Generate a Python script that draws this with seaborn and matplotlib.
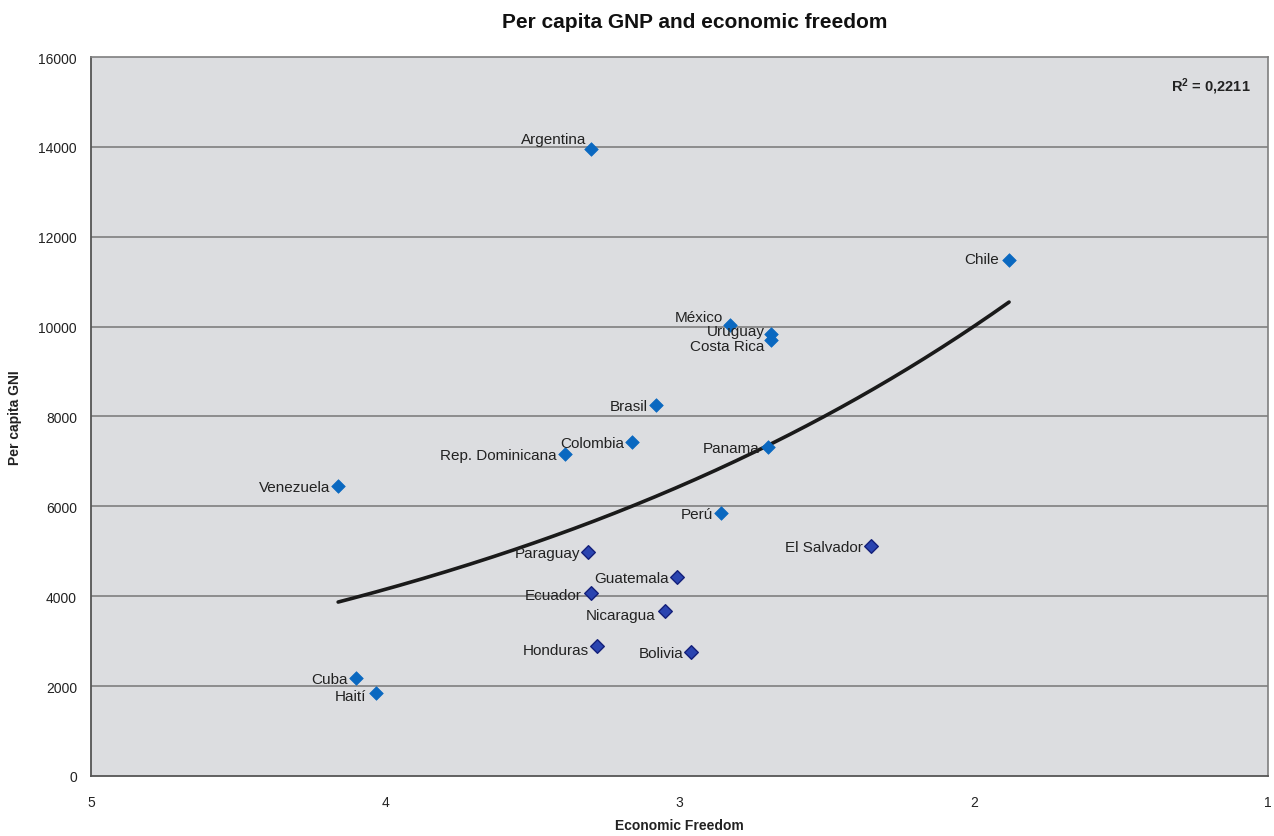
import numpy as np
import pandas as pd
import seaborn as sns
import matplotlib.pyplot as plt

# Values
countries = ['Argentina', 'Chile', 'México', 'Uruguay', 'Costa Rica', 'Brasil',
             'Colombia', 'Rep. Dominicana', 'Panama', 'Venezuela', 'Perú',
             'El Salvador', 'Paraguay', 'Guatemala', 'Ecuador', 'Nicaragua',
             'Honduras', 'Bolivia', 'Cuba', 'Haití']
freedom = [3.30, 1.88, 2.83, 2.69, 2.69, 3.08, 3.16, 3.39, 2.70, 4.16, 2.86,
           2.35, 3.31, 3.01, 3.30, 3.05, 3.28, 2.96, 4.10, 4.03]
gni = [13950, 11480, 10040, 9840, 9700, 8250, 7430, 7170, 7320, 6450, 5850,
       5120, 4980, 4430, 4070, 3670, 2890, 2760, 2180, 1850]
group = ['a', 'a', 'a', 'a', 'a', 'a', 'a', 'a', 'a', 'a', 'a',
         'b', 'b', 'b', 'b', 'b', 'b', 'b', 'a', 'a']
# exponential trendline y = a * exp(b * x), as drawn in the reference
trend_a = 24100
trend_b = -0.4396
r2_text = '$\\mathbf{R^2}$ = 0,2211'

df = pd.DataFrame({'country': countries, 'freedom': freedom, 'gni': gni, 'group': group})

sns.set_style('white')
plt.rcParams['font.family'] = ['Liberation Sans', 'DejaVu Sans']
plt.rcParams['mathtext.fontset'] = 'custom'
plt.rcParams['mathtext.rm'] = 'Liberation Sans'
plt.rcParams['mathtext.bf'] = 'Liberation Sans:bold'

fig = plt.figure(figsize=(12.74, 8.37), dpi=100)
ax = fig.add_axes([0.0714, 0.0717, 0.9239, 0.859])
ax.set_facecolor('#dcdde0')

# horizontal gridlines
for yv in range(2000, 16000, 2000):
    ax.axhline(yv, color='#7f7f7f', lw=1.2, zorder=1)

# trend line over the range of the data
xs = np.linspace(df['freedom'].min(), df['freedom'].max(), 200)
trend = pd.DataFrame({'x': xs, 'y': trend_a * np.exp(trend_b * xs)})
sns.lineplot(data=trend, x='x', y='y', color='#1a1a1a', lw=2.6, ax=ax, zorder=3)

# points, two marker styles
light = df[df['group'] == 'a']
dark = df[df['group'] == 'b']
sns.scatterplot(data=light, x='freedom', y='gni', marker='D', s=48, color='#0a68c0',
                edgecolor='#0a68c0', linewidth=0.5, ax=ax, zorder=4)
sns.scatterplot(data=dark, x='freedom', y='gni', marker='D', s=48, color='#2a44b0',
                edgecolor='#14207a', linewidth=1.0, ax=ax, zorder=4)

# label offsets in pixels (styling only)
offsets = {'Argentina': (-5, 10), 'México': (-7, 8), 'Uruguay': (-6, 3),
           'Costa Rica': (-6, -6), 'Chile': (-10, 1), 'Nicaragua': (-9, -4),
           'Haití': (-10, -3), 'Honduras': (-8, -4), 'Ecuador': (-10, -2)}
for _, r in df.iterrows():
    dx, dy = offsets.get(r['country'], (-8, -1))
    ax.annotate(r['country'], (r['freedom'], r['gni']), xytext=(dx, dy),
                textcoords='offset pixels', ha='right', va='center',
                fontsize=11, color='#222222', zorder=5)

ax.text(0.985, 0.96, r2_text, transform=ax.transAxes, ha='right', va='center',
        fontsize=10.5, fontweight='bold', color='#222222')

ax.set_xlim(5, 1)
ax.set_ylim(0, 16000)
ax.set_xticks([5, 4, 3, 2, 1])
ax.set_yticks(range(0, 16001, 2000))
ax.tick_params(axis='both', direction='out', length=5, width=1, color='#555555',
               labelsize=10, labelcolor='#222222')
ax.tick_params(axis='x', pad=9)
ax.tick_params(axis='y', pad=5)

for side in ['top', 'right']:
    ax.spines[side].set_color('#7f7f7f')
    ax.spines[side].set_linewidth(1.2)
for side in ['left', 'bottom']:
    ax.spines[side].set_color('#555555')
    ax.spines[side].set_linewidth(1.3)

ax.set_xlabel('Economic Freedom', fontsize=10, fontweight='bold', color='#222222', labelpad=6)
ax.set_ylabel('Per capita GNI', fontsize=10, fontweight='bold', color='#222222', labelpad=12)
fig.suptitle('Per capita GNP and economic freedom', fontsize=15, fontweight='bold',
             color='#111111', x=0.545, y=0.985)

fig.savefig('out.png', dpi=100, facecolor='white')
